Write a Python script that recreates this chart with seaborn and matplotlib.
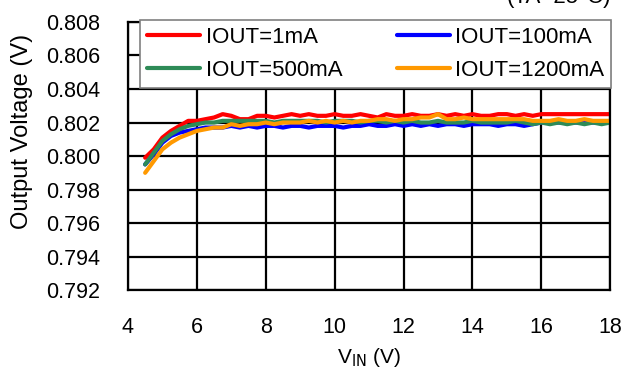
#line regulation plot: output voltage vs input voltage for several load currents
import numpy as np
import matplotlib
matplotlib.use("Agg")
import matplotlib.pyplot as plt
import seaborn as sns
import pandas as pd

vin = [4.5, 4.75, 5.0, 5.25, 5.5, 5.75, 6.0, 6.25, 6.5, 6.75, 7.0, 7.25, 7.5, 7.75,
       8.0, 8.25, 8.5, 8.75, 9.0, 9.25, 9.5, 9.75, 10.0, 10.25, 10.5, 10.75, 11.0, 11.25,
       11.5, 11.75, 12.0, 12.25, 12.5, 12.75, 13.0, 13.25, 13.5, 13.75, 14.0, 14.25, 14.5,
       14.75, 15.0, 15.25, 15.5, 15.75, 16.0, 16.25, 16.5, 16.75, 17.0, 17.25, 17.5, 17.75, 18.0]

vout_1ma = [0.7999, 0.8004, 0.8011, 0.8015, 0.8018, 0.8021, 0.8021, 0.8022, 0.8023, 0.8025,
            0.8024, 0.8022, 0.8022, 0.8024, 0.8024, 0.8023, 0.8024, 0.8025, 0.8024, 0.8025,
            0.8024, 0.8024, 0.8025, 0.8024, 0.8024, 0.8025, 0.8024, 0.8023, 0.8025, 0.8024,
            0.8024, 0.8025, 0.8024, 0.8024, 0.8025, 0.8024, 0.8025, 0.8024, 0.8025, 0.8024,
            0.8024, 0.8025, 0.8025, 0.8024, 0.8025, 0.8024, 0.8025, 0.8025, 0.8025, 0.8025,
            0.8025, 0.8025, 0.8025, 0.8025, 0.8025]
vout_100ma = [0.7995, 0.8001, 0.8008, 0.8012, 0.8014, 0.8015, 0.8016, 0.8017, 0.8017, 0.8017,
              0.8018, 0.8017, 0.8018, 0.8017, 0.8018, 0.8018, 0.8017, 0.8018, 0.8018, 0.8017,
              0.8018, 0.8018, 0.8018, 0.8017, 0.8018, 0.8018, 0.8019, 0.8018, 0.8018, 0.8019,
              0.8018, 0.8019, 0.8018, 0.8019, 0.8018, 0.8019, 0.8019, 0.8018, 0.8019, 0.8019,
              0.8019, 0.8018, 0.8019, 0.8019, 0.8018, 0.8019, 0.8020, 0.8020, 0.8020, 0.8020,
              0.8020, 0.8020, 0.8020, 0.8020, 0.8020]
vout_500ma = [0.7995, 0.8002, 0.8009, 0.8013, 0.8016, 0.8018, 0.8019, 0.8020, 0.8020, 0.8021,
              0.8021, 0.8021, 0.8021, 0.8021, 0.8021, 0.8020, 0.8021, 0.8021, 0.8021, 0.8021,
              0.8021, 0.8020, 0.8021, 0.8021, 0.8021, 0.8020, 0.8021, 0.8021, 0.8020, 0.8021,
              0.8020, 0.8021, 0.8020, 0.8020, 0.8021, 0.8020, 0.8020, 0.8020, 0.8021, 0.8020,
              0.8020, 0.8020, 0.8020, 0.8021, 0.8020, 0.8019, 0.8020, 0.8019, 0.8020, 0.8019,
              0.8020, 0.8019, 0.8020, 0.8019, 0.8020]
vout_1200ma = [0.7990, 0.7997, 0.8004, 0.8008, 0.8011, 0.8013, 0.8015, 0.8016, 0.8017, 0.8017,
               0.8019, 0.8018, 0.8019, 0.8019, 0.8020, 0.8019, 0.8020, 0.8020, 0.8020, 0.8021,
               0.8020, 0.8021, 0.8020, 0.8021, 0.8020, 0.8021, 0.8021, 0.8022, 0.8022, 0.8021,
               0.8022, 0.8022, 0.8023, 0.8023, 0.8025, 0.8022, 0.8022, 0.8023, 0.8022, 0.8022,
               0.8022, 0.8022, 0.8022, 0.8022, 0.8022, 0.8021, 0.8021, 0.8021, 0.8022, 0.8021,
               0.8021, 0.8022, 0.8021, 0.8021, 0.8021]

labels = ["IOUT=1mA", "IOUT=100mA", "IOUT=500mA", "IOUT=1200mA"]
colors = ["#ff0000", "#0000ff", "#2e8b57", "#ff9900"]
xticks = [4, 6, 8, 10, 12, 14, 16, 18]
yticks = [0.792, 0.794, 0.796, 0.798, 0.800, 0.802, 0.804, 0.806, 0.808]

df = pd.concat([
    pd.DataFrame({"vin": vin, "vout": v, "load": lab})
    for v, lab in zip([vout_1ma, vout_100ma, vout_500ma, vout_1200ma], labels)
])

sns.set_style("white")
plt.rcParams['font.family'] = ['Liberation Sans', 'DejaVu Sans']
plt.rcParams['text.color'] = 'black'
plt.rcParams['axes.labelcolor'] = 'black'
plt.rcParams['xtick.color'] = 'black'
plt.rcParams['ytick.color'] = 'black'

fig = plt.figure(figsize=(6.24, 3.72), dpi=100)
ax = fig.add_axes([0.205, 0.22, 0.773, 0.721])

sns.lineplot(data=df, x="vin", y="vout", hue="load", palette=colors,
             hue_order=labels, linewidth=3, ax=ax)

ax.set_xlim(4, 18)
ax.set_ylim(0.792, 0.808)
ax.set_xticks(xticks)
ax.set_yticks(yticks)
ax.set_xticklabels([str(t) for t in xticks], fontsize=15.5)
ax.set_yticklabels(["%.3f" % t for t in yticks], fontsize=15.5)
ax.tick_params(axis="x", length=0, pad=19)
ax.tick_params(axis="y", length=0, pad=20)
ax.grid(True, color="black", linewidth=1.6)
ax.set_axisbelow(True)
for s in ax.spines.values():
    s.set_color("black")
    s.set_linewidth(1.6)

ax.set_xlabel(r"V$_{\rm IN}$ (V)", fontsize=15, labelpad=6)
ax.set_ylabel("Output Voltage (V)", fontsize=17)
ax.yaxis.set_label_coords(-0.196, 0.59)

# excel-style legend fills row by row
handles, labs = ax.get_legend_handles_labels()
order = [0, 2, 1, 3]
leg = ax.legend([handles[i] for i in order], [labs[i] for i in order],
                loc="lower left", bbox_to_anchor=(0.025, 0.754, 0.977, 0.253),
                mode="expand", ncol=2, fontsize=16, handlelength=2.4,
                frameon=True, fancybox=False, framealpha=1, borderaxespad=0,
                handletextpad=0.25, labelspacing=0.55, borderpad=0.3)
leg.get_frame().set_edgecolor("#808080")
leg.get_frame().set_linewidth(1.2)
for line in leg.get_lines():
    line.set_linewidth(3)

fig.text(0.895, 0.992, "(TA=25°C)", fontsize=16, ha="center", va="baseline")

fig.savefig("out.png", dpi=100)
